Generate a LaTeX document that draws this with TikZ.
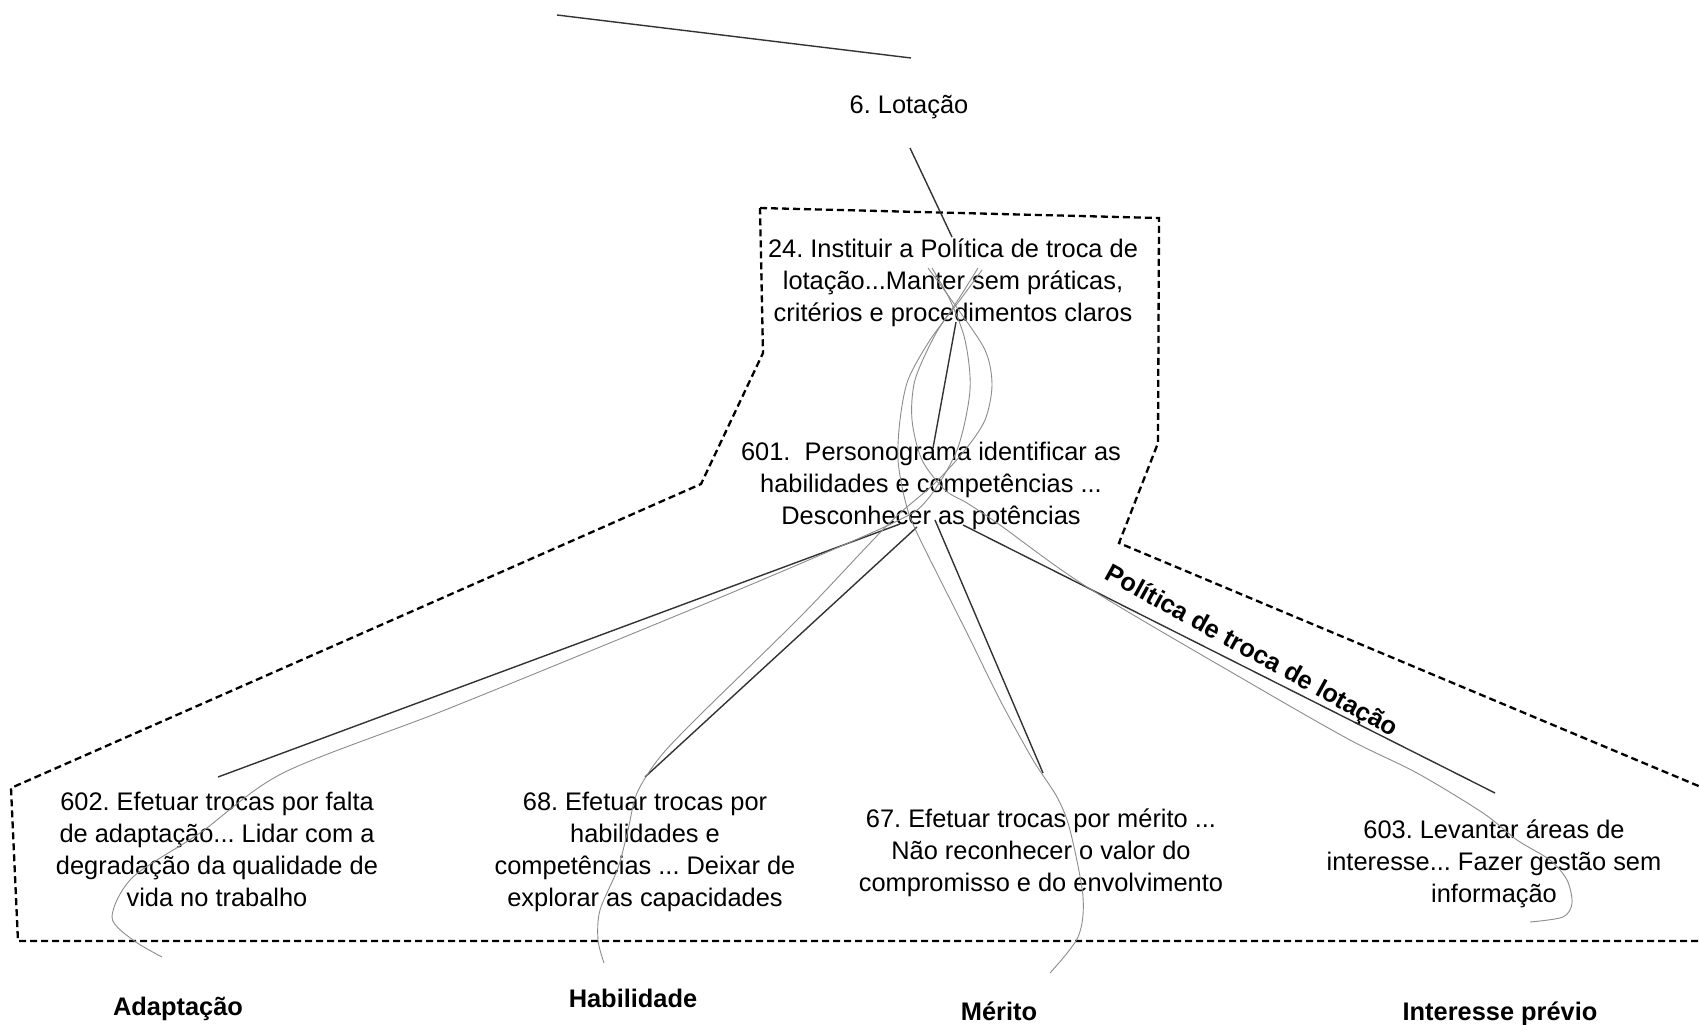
\documentclass[tikz,border=0pt]{standalone}
\usepackage{fontspec}
\setmainfont{Liberation Sans}
\newcommand\mlines[1]{\begin{tabular}[t]{@{}c@{}}#1\end{tabular}}
\begin{document}
\frenchspacing
\begin{tikzpicture}[x=1pt,y=-1pt,
  txt/.style={anchor=base, inner sep=0pt, font=\fontsize{25.4}{32}\selectfont, text=black},
  tag/.style={anchor=base, inner sep=0pt, font=\bfseries\fontsize{25.4}{32}\selectfont, text=black},
  conn/.style={draw=black!80, line width=1.4pt},
  xlink/.style={draw=black!45, line width=0.9pt},
  region/.style={draw=black, line width=2.3pt, dash pattern=on 7pt off 4pt}]

\fill[white] (0,0) rectangle (1700,1025);
\useasboundingbox (0,0) rectangle (1700,1025);
\clip (0,0) rectangle (1700,1025);

% dashed grouping region
\draw[region] (760,208) -- (1159,218) -- (1158,443) -- (1119,543) -- (1720,795)
  -- (1720,941) -- (18,941) -- (11,788) -- (701,484) -- (763,353) -- cycle;

% concepts
\node[txt] (lot) at (909,113) {6. Lotação};
\node[txt] (n24) at (953,257) {\mlines{24. Instituir a Política de troca de\\lotação...Manter sem práticas,\\critérios e procedimentos claros}};
\node[txt] (n601) at (931,460) {\mlines{601.\ \ Personograma identificar as\\habilidades e competências ...\\Desconhecer as potências}};
\node[txt] (n602) at (217,810) {\mlines{602. Efetuar trocas por falta\\de adaptação... Lidar com a\\degradação da qualidade de\\vida no trabalho}};
\node[txt] (n68) at (645,810) {\mlines{68. Efetuar trocas por\\habilidades e\\competências ... Deixar de\\explorar as capacidades}};
\node[txt] (n67) at (1041,827) {\mlines{67. Efetuar trocas por mérito ...\\Não reconhecer o valor do\\compromisso e do envolvimento}};
\node[txt] (n603) at (1494,838) {\mlines{603. Levantar áreas de\\interesse... Fazer gestão sem\\informação}};

% category labels
\node[tag] (adapt) at (178,1015) {Adaptação};
\node[tag] (habil) at (633,1007) {Habilidade};
\node[tag] (merit) at (999,1020) {Mérito};
\node[tag] (inter) at (1500,1020) {Interesse prévio};
\node[tag, rotate=-28.8] (pol) at (1248,658) {Política de troca de lotação};

% connector end points
\coordinate (topfree) at (557,15);
\coordinate (lotIn) at (911,58);
\coordinate (lotOut) at (910,148);
\coordinate (n24In) at (952,237);
\coordinate (n24Out) at (956,322);
\coordinate (n601In) at (933,448);
\coordinate (o602) at (900,524);
\coordinate (o68) at (917,527);
\coordinate (o67) at (935,520);
\coordinate (o603) at (963,525);
\coordinate (i602) at (218,777);
\coordinate (i68) at (645,777);
\coordinate (i67) at (1043,773);
\coordinate (i603) at (1495,793);

% hierarchy connectors
\draw[conn] (topfree) -- (lotIn);
\draw[conn] (lotOut) -- (n24In);
\draw[conn] (n24Out) -- (n601In);
\draw[conn] (o602) -- (i602);
\draw[conn] (o68) -- (i68);
\draw[conn] (o67) -- (i67);
\draw[conn] (o603) -- (i603);

% curved cross links towards the categories
\coordinate (xa0) at (932,268);  \coordinate (xa1) at (162,957);
\coordinate (xh0) at (928,268);  \coordinate (xh1) at (604,963);
\coordinate (xm0) at (982,270);  \coordinate (xm1) at (1050,973);
\coordinate (xi0) at (978,268);  \coordinate (xi1) at (1530,922);

\draw[xlink] plot[smooth, tension=0.5] coordinates {(xa0) (950,300) (965,340) (970,390)
  (957,450) (927,500) (893,523) (750,585) (600,647) (440,712) (283,773) (200,833)
  (133,877) (112,917) (133,940) (xa1)};
\draw[xlink] plot[smooth, tension=0.5] coordinates {(xh0) (955,305) (985,350) (992,385)
  (985,420) (965,450) (935,483) (900,513) (873,540) (800,617) (700,715) (660,757)
  (637,793) (628,830) (618,868) (600,910) (598,940) (xh1)};
\draw[xlink] plot[smooth, tension=0.5] coordinates {(xm0) (960,300) (930,340) (908,380)
  (900,420) (898,460) (905,500) (917,533) (967,633) (1000,700) (1033,760) (1057,797)
  (1070,830) (1083,897) (1078,937) (xm1)};
\draw[xlink] plot[smooth, tension=0.5] coordinates {(xi0) (958,300) (935,335) (915,380)
  (912,420) (922,460) (945,490) (967,503) (1000,525) (1087,587) (1250,683) (1350,740)
  (1417,773) (1483,813) (1517,840) (1550,860) (1567,880) (1572,903) (1563,917) (xi1)};
\end{tikzpicture}
\end{document}
